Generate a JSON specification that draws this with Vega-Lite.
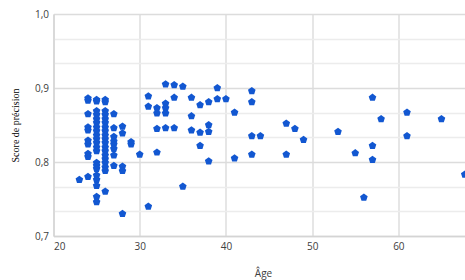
{
  "$schema": "https://vega.github.io/schema/vega-lite/v6.json",
  "autosize": "none",
  "width": 419,
  "height": 222,
  "padding": {"left": 53.5, "top": 14, "right": 0, "bottom": 44},
  "background": "#ffffff",
  "config": {"view": {"stroke": null}},
  "data": {"values": [
    {"age": 23, "score": 0.776},
    {"age": 24, "score": 0.886}, {"age": 24, "score": 0.883}, {"age": 24, "score": 0.865}, {"age": 24, "score": 0.847}, {"age": 24, "score": 0.843}, {"age": 24, "score": 0.829}, {"age": 24, "score": 0.824}, {"age": 24, "score": 0.811}, {"age": 24, "score": 0.807}, {"age": 24, "score": 0.780},
    {"age": 25, "score": 0.884}, {"age": 25, "score": 0.882}, {"age": 25, "score": 0.869}, {"age": 25, "score": 0.864}, {"age": 25, "score": 0.858}, {"age": 25, "score": 0.853}, {"age": 25, "score": 0.847}, {"age": 25, "score": 0.842}, {"age": 25, "score": 0.836}, {"age": 25, "score": 0.831}, {"age": 25, "score": 0.826}, {"age": 25, "score": 0.820}, {"age": 25, "score": 0.815}, {"age": 25, "score": 0.799}, {"age": 25, "score": 0.795}, {"age": 25, "score": 0.791}, {"age": 25, "score": 0.782}, {"age": 25, "score": 0.776}, {"age": 25, "score": 0.768}, {"age": 25, "score": 0.753}, {"age": 25, "score": 0.746},
    {"age": 26, "score": 0.884}, {"age": 26, "score": 0.881}, {"age": 26, "score": 0.869}, {"age": 26, "score": 0.864}, {"age": 26, "score": 0.858}, {"age": 26, "score": 0.853}, {"age": 26, "score": 0.847}, {"age": 26, "score": 0.842}, {"age": 26, "score": 0.836}, {"age": 26, "score": 0.831}, {"age": 26, "score": 0.826}, {"age": 26, "score": 0.820}, {"age": 26, "score": 0.815}, {"age": 26, "score": 0.809}, {"age": 26, "score": 0.804}, {"age": 26, "score": 0.799}, {"age": 26, "score": 0.793}, {"age": 26, "score": 0.788}, {"age": 26, "score": 0.760},
    {"age": 27, "score": 0.865}, {"age": 27, "score": 0.846}, {"age": 27, "score": 0.834}, {"age": 27, "score": 0.828}, {"age": 27, "score": 0.824}, {"age": 27, "score": 0.818}, {"age": 27, "score": 0.809}, {"age": 27, "score": 0.795},
    {"age": 28, "score": 0.848}, {"age": 28, "score": 0.839}, {"age": 28, "score": 0.794}, {"age": 28, "score": 0.788}, {"age": 28, "score": 0.730},
    {"age": 29, "score": 0.827}, {"age": 29, "score": 0.824},
    {"age": 30, "score": 0.810},
    {"age": 31, "score": 0.889}, {"age": 31, "score": 0.875}, {"age": 31, "score": 0.740},
    {"age": 32, "score": 0.873}, {"age": 32, "score": 0.866}, {"age": 32, "score": 0.845}, {"age": 32, "score": 0.813},
    {"age": 33, "score": 0.905}, {"age": 33, "score": 0.879}, {"age": 33, "score": 0.873}, {"age": 33, "score": 0.866}, {"age": 33, "score": 0.846},
    {"age": 34, "score": 0.904}, {"age": 34, "score": 0.887}, {"age": 34, "score": 0.846},
    {"age": 35, "score": 0.902}, {"age": 35, "score": 0.767},
    {"age": 36, "score": 0.887}, {"age": 36, "score": 0.862}, {"age": 36, "score": 0.843},
    {"age": 37, "score": 0.877}, {"age": 37, "score": 0.840}, {"age": 37, "score": 0.822},
    {"age": 38, "score": 0.881}, {"age": 38, "score": 0.850}, {"age": 38, "score": 0.841}, {"age": 38, "score": 0.801},
    {"age": 39, "score": 0.900}, {"age": 39, "score": 0.885},
    {"age": 40, "score": 0.885},
    {"age": 41, "score": 0.867}, {"age": 41, "score": 0.805},
    {"age": 43, "score": 0.896}, {"age": 43, "score": 0.881}, {"age": 43, "score": 0.835}, {"age": 43, "score": 0.810},
    {"age": 44, "score": 0.835},
    {"age": 47, "score": 0.852}, {"age": 47, "score": 0.810},
    {"age": 48, "score": 0.845},
    {"age": 49, "score": 0.830},
    {"age": 53, "score": 0.841},
    {"age": 55, "score": 0.812},
    {"age": 56, "score": 0.752},
    {"age": 57, "score": 0.887}, {"age": 57, "score": 0.822}, {"age": 57, "score": 0.803},
    {"age": 58, "score": 0.858},
    {"age": 61, "score": 0.867}, {"age": 61, "score": 0.835},
    {"age": 65, "score": 0.858},
    {"age": 67.7, "score": 0.783}
  ]},
  "mark": {
    "type": "point",
    "shape": "M0,-1L0.951,-0.309L0.588,0.809L-0.588,0.809L-0.951,-0.309Z",
    "filled": true,
    "opacity": 1,
    "size": 64,
    "color": "#1257d1",
    "clip": true
  },
  "encoding": {
    "x": {
      "field": "age", "type": "quantitative",
      "scale": {"domain": [20, 68.6], "nice": false, "zero": false},
      "axis": {
        "title": "Âge",
        "values": [20, 30, 40, 50, 60],
        "format": "d",
        "ticks": false,
        "labelPadding": 5,
        "labelFont": "Open Sans", "labelFontSize": 10, "labelColor": "#404040",
        "titleFont": "Open Sans", "titleFontSize": 10, "titleFontWeight": "normal", "titleColor": "#404040",
        "titlePadding": 17,
        "domainColor": "#d4d4d4", "domainWidth": 1.5,
        "gridColor": "#dedede", "gridWidth": 1.5
      }
    },
    "y": {
      "field": "score", "type": "quantitative",
      "scale": {"domain": [0.7, 1.0], "nice": false, "zero": false},
      "axis": {
        "title": "Score de précision",
        "values": [0.7, 0.733333, 0.766667, 0.8, 0.833333, 0.866667, 0.9, 0.933333, 0.966667, 1.0],
        "labelExpr": "abs(datum.value*10 - round(datum.value*10)) < 0.01 ? replace(format(datum.value, '.1f'), '.', ',') : ''",
        "ticks": false,
        "labelPadding": 5,
        "labelFont": "Open Sans", "labelFontSize": 10, "labelColor": "#404040",
        "titleFont": "Liberation Serif", "titleFontSize": 10, "titleFontWeight": "normal", "titleColor": "#000000",
        "titlePadding": 14,
        "domainColor": "#d4d4d4", "domainWidth": 1.5,
        "gridColor": {"condition": {"test": "abs(datum.value*10 - round(datum.value*10)) < 0.01", "value": "#dcdcdc"}, "value": "#ececec"},
        "gridWidth": 1.5
      }
    }
  }
}
